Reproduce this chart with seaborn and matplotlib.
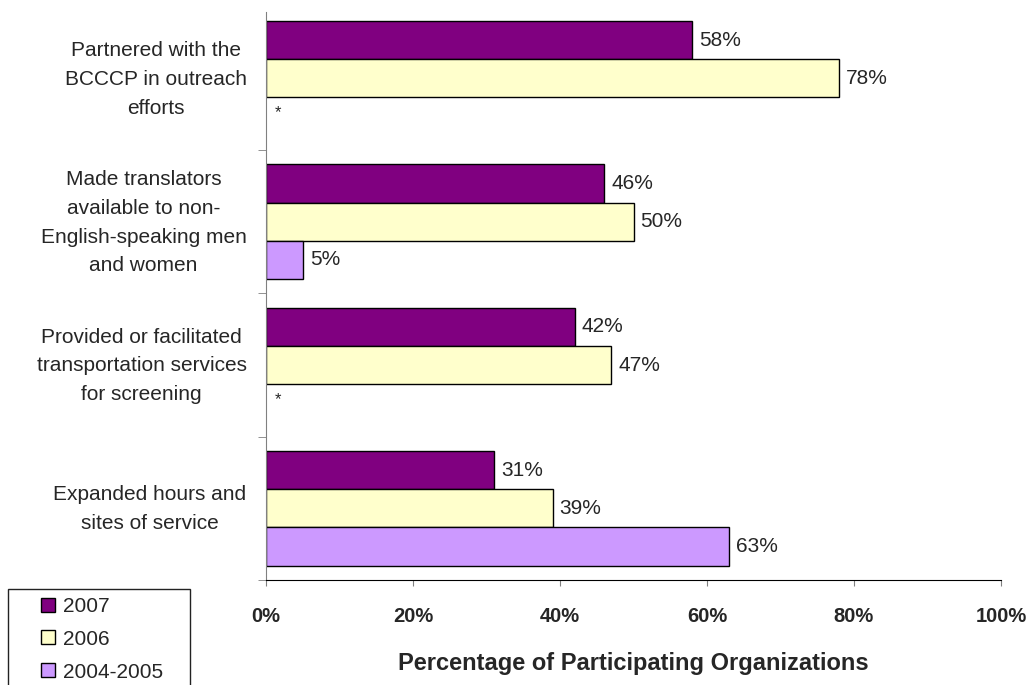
import pandas as pd
import numpy as np
import matplotlib
matplotlib.use("Agg")
import matplotlib.pyplot as plt
from matplotlib.patches import Patch, Rectangle
from matplotlib.transforms import ScaledTranslation
import seaborn as sns

# data
categories = [
    "Partnered with the\nBCCCP in outreach\nefforts",
    "Made translators\navailable to non-\nEnglish-speaking men\nand women",
    "Provided or facilitated\ntransportation services\nfor screening",
    "Expanded hours and\nsites of service",
]
years = ["2007", "2006", "2004-2005"]
vals_2007 = [58, 46, 42, 31]
vals_2006 = [78, 50, 47, 39]
vals_2004 = [np.nan, 5, np.nan, 63]   # nan = not asked (shown as *)
colors = {"2007": "#800080", "2006": "#FFFFCC", "2004-2005": "#CC99FF"}

rows = []
for yr, vals in zip(years, [vals_2007, vals_2006, vals_2004]):
    for cat, v in zip(categories, vals):
        rows.append({"Activity": cat, "Year": yr, "Pct": v})
df = pd.DataFrame(rows)

sns.set_style("white")
plt.rcParams["font.family"] = ["Liberation Sans", "DejaVu Sans"]

fig, ax = plt.subplots(figsize=(10.31, 6.85), dpi=100)
fig.subplots_adjust(left=266 / 1031, right=1001 / 1031, top=1 - 6.7 / 685, bottom=1 - 580 / 685)

sns.barplot(data=df.dropna(), x="Pct", y="Activity", hue="Year",
            order=categories, hue_order=years, palette=colors, saturation=1,
            orient="h", width=0.8, edgecolor="black", linewidth=1,
            legend=False, ax=ax)

for cont in ax.containers:
    ax.bar_label(cont, fmt="{:.0f}%", padding=5, fontsize=15)

# asterisks where 2004-2005 data is missing
for i, v in enumerate(vals_2004):
    if np.isnan(v):
        ax.text(1.2, i + 0.24, "*", ha="left", va="center", fontsize=12)

ax.set_xlim(0, 100)
ax.set_ylim(len(categories) - 0.5, -0.5)
ax.set_xticks(range(0, 101, 20))
ax.set_xticklabels([f"{t}%" for t in range(0, 101, 20)], fontweight="bold", fontsize=14.5)
ax.tick_params(axis="x", direction="out", length=4.5, color="#808080", pad=15, bottom=True)

ax.set_yticks(range(len(categories)))
ax.set_yticklabels(categories, fontsize=15, linespacing=1.66, multialignment="center")
ax.tick_params(axis="y", which="major", length=0, pad=14)
shift_up = ScaledTranslation(0, 6 / 100, fig.dpi_scale_trans)
for lab in ax.get_yticklabels():
    lab.set_transform(lab.get_transform() + shift_up)
ax.set_yticks([i + 0.5 for i in range(len(categories))], minor=True)
ax.tick_params(axis="y", which="minor", direction="out", length=6, color="#808080", left=True)

ax.set_xlabel("Percentage of Participating Organizations", fontweight="bold",
              fontsize=17, labelpad=19)
ax.set_ylabel("")

for s in ["top", "right"]:
    ax.spines[s].set_visible(False)
ax.spines["left"].set_color("#808080")
ax.spines["left"].set_bounds(len(categories) - 0.5, -0.463)
ax.spines["bottom"].set_color("black")

# legend box in the lower-left corner, running off the bottom edge
fig.patches.append(Rectangle((8 / 1031, -0.02), 182 / 1031, 0.02 + (685 - 589) / 685,
                             transform=fig.transFigure, facecolor="none",
                             edgecolor="#222222", linewidth=1))
handles = [Patch(facecolor=colors[y], edgecolor="black", label=y) for y in years]
fig.legend(handles=handles, loc="upper left",
           bbox_to_anchor=(41 / 1031, 1 - 597 / 685),
           frameon=False, fontsize=15, handlelength=0.65, handleheight=0.65,
           handletextpad=0.43, labelspacing=0.66, borderpad=0, borderaxespad=0)

fig.savefig("out.png", dpi=100)
